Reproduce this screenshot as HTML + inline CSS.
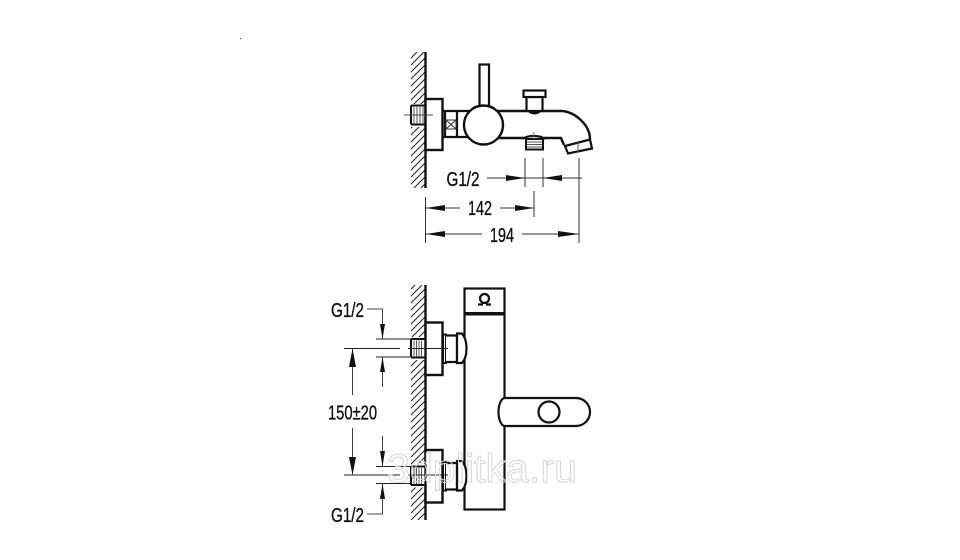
<!DOCTYPE html>
<html><head><meta charset="utf-8"><style>
html,body{margin:0;padding:0;background:#fff;width:960px;height:560px;overflow:hidden}
svg{display:block}
text{font-family:"Liberation Sans",sans-serif;fill:#111;stroke:#111;stroke-width:.35}
</style></head><body>
<svg width="960" height="560" viewBox="0 0 960 560" xmlns="http://www.w3.org/2000/svg">
<defs>
<pattern id="h" width="7" height="7" patternUnits="userSpaceOnUse">
<path d="M-2 9L9 -2M-2 2L2 -2M5 9L9 5" stroke="#222" stroke-width="1"/>
</pattern>
<g id="fit">
<rect x="411" y="-11.500" width="14" height="23" fill="#fff"/>
<path d="M411 -9.500H425M411 9H425M411 -9.500V9" fill="none" stroke="#111" stroke-width="2"/>
<path d="M414 -8V8M416.500 -8V8M419 -8V8M421.500 -8V8" stroke="#555" stroke-width="1"/>
<rect x="425.500" y="-26" width="17" height="52.500" fill="#fff" stroke="#111" stroke-width="2.400"/>
<rect x="443" y="-14" width="3" height="28.500" fill="#fff" stroke="#111" stroke-width="2"/>
<path d="M446 -13H457V13.500H446" fill="#fff" stroke="#111" stroke-width="2.200"/>
<path d="M457 -15H462C468 -8 468 8 462 14.500H457Z" fill="#fff" stroke="#111" stroke-width="2.200"/>
</g>
</defs>
<rect width="960" height="560" fill="#fff"/>
<rect x="240" y="38" width="1" height="1" fill="#333"/>

<!-- top view -->
<rect x="411" y="52" width="14" height="136" fill="url(#h)"/>
<rect x="410" y="104" width="15" height="23" fill="#fff"/>
<path d="M425.500 52V188" stroke="#111" stroke-width="2.400"/>
<path d="M411 105.500H425M411 124.500H425M411 105.500V124.500" fill="none" stroke="#111" stroke-width="2"/>
<path d="M414 106V124M417 106V124M420 106V124M423 106V124" stroke="#555"/>
<rect x="425.500" y="99" width="17" height="51" fill="#fff" stroke="#111" stroke-width="2.400"/>
<path d="M404 115H433" stroke="#444" stroke-width="1"/>
<path d="M443 111H470M443 137H470M445 111V137M457 111V137" fill="none" stroke="#111" stroke-width="2.200"/>
<rect x="446" y="120" width="10" height="9" fill="none" stroke="#333" stroke-width="1"/>
<path d="M446 120L456 129M456 120L446 129" stroke="#333" stroke-width="1"/>
<rect x="479.500" y="64.500" width="9.500" height="42" fill="#fff" stroke="#111" stroke-width="2.200"/>
<path d="M490 111H562C575 112 590 125 590 139M490 138H524M544 138H561L564 145" fill="none" stroke="#111" stroke-width="2.400"/>
<circle cx="483.500" cy="125" r="19.500" fill="#fff" stroke="#111" stroke-width="2.400"/>
<rect x="526.500" y="97" width="16" height="14" fill="#fff" stroke="#111" stroke-width="2.200"/>
<rect x="523.500" y="90.500" width="22" height="6.500" fill="#fff" stroke="#111" stroke-width="2.200"/>
<path d="M528 111C531 115 538 115 541 111" fill="#111" stroke="#111"/>
<path d="M523 139C527 135 540 135 545 139" fill="#fff" stroke="#111" stroke-width="2.200"/>
<rect x="526" y="139" width="17" height="10.500" fill="#fff" stroke="#111" stroke-width="2"/>
<path d="M527 142H542M527 144.500H542M527 147H542" stroke="#555"/>
<path d="M534 132V139" stroke="#777"/>
<path d="M565 146L590 139.500L592 148.500L568 153.500Z" fill="#fff" stroke="#111" stroke-width="2.200"/>
<path d="M578 142V152" stroke="#555"/>

<!-- dimensions top -->
<path d="M525 158V187M543 158V187M579 158V243M534 191V217M425.500 197V243" stroke="#333" stroke-width="1"/>
<path d="M487 178H582M426 208H460M500 208H534M426 234H482M522 234H579" stroke="#333" stroke-width="1"/>
<path d="M506 175L525 178L506 181ZM543 178L562 175V181ZM426 208L445 205V211ZM534 208L515 205V211ZM426 234L445 231V237ZM579 234L558 231V237Z" fill="#111"/>
<text x="446.500" y="186" font-size="20" textLength="33" lengthAdjust="spacingAndGlyphs">G1/2</text>
<text x="468" y="215" font-size="20" textLength="24" lengthAdjust="spacingAndGlyphs">142</text>
<text x="490" y="242" font-size="20" textLength="24" lengthAdjust="spacingAndGlyphs">194</text>

<!-- bottom view -->
<rect x="411" y="285" width="14" height="235" fill="url(#h)"/>
<path d="M425.500 285V520" stroke="#111" stroke-width="2.400"/>
<rect x="464.500" y="288.500" width="40" height="221" fill="#fff" stroke="#111" stroke-width="2.200"/>
<rect x="464" y="312" width="41" height="3.500" fill="#111"/>
<circle cx="484.500" cy="298.500" r="4.500" fill="none" stroke="#111" stroke-width="2.200"/>
<path d="M478 304.500H483M486 304.500H491" stroke="#111" stroke-width="2.200"/>
<use href="#fit" y="348.500"/>
<use href="#fit" y="476"/>
<path d="M505 398H576A14 14 0 0 1 576 426H505C501 426 498.500 419 498.500 412C498.500 405 501 398 505 398Z" fill="#fff" stroke="#111" stroke-width="2.200"/>
<circle cx="549" cy="412" r="10.500" fill="#fff" stroke="#111" stroke-width="2.200"/>

<!-- dimensions bottom -->
<path d="M344 348.500H400M408 348.500H448M376 339H412M376 357H412M344 475H400M408 475H448M376 466.500H412M376 483.500H412" stroke="#222" stroke-width="1"/>
<path d="M367 309H382.500V339M382.500 357V387M352.500 349V395M352.500 428V475M382.500 436V467M382.500 483V514H367" fill="none" stroke="#444" stroke-width="1"/>
<path d="M380 324H385L382.500 339ZM380 372H385L382.500 357ZM349 367H356L352.500 348.500ZM349 457H356L352.500 475ZM380 451H385L382.500 466.500ZM380 499H385L382.500 483.500Z" fill="#111"/>
<text x="331" y="317" font-size="20" textLength="33" lengthAdjust="spacingAndGlyphs">G1/2</text>
<text x="328" y="419.500" font-size="20" textLength="49" lengthAdjust="spacingAndGlyphs">150±20</text>
<text x="331" y="522" font-size="20" textLength="33" lengthAdjust="spacingAndGlyphs">G1/2</text>

<!-- watermark -->
<text x="387" y="482" font-size="40" textLength="190" lengthAdjust="spacingAndGlyphs" style="fill:none;stroke:#d6d6d6;stroke-width:1">3dplitka.ru</text>
</svg>
</body></html>
